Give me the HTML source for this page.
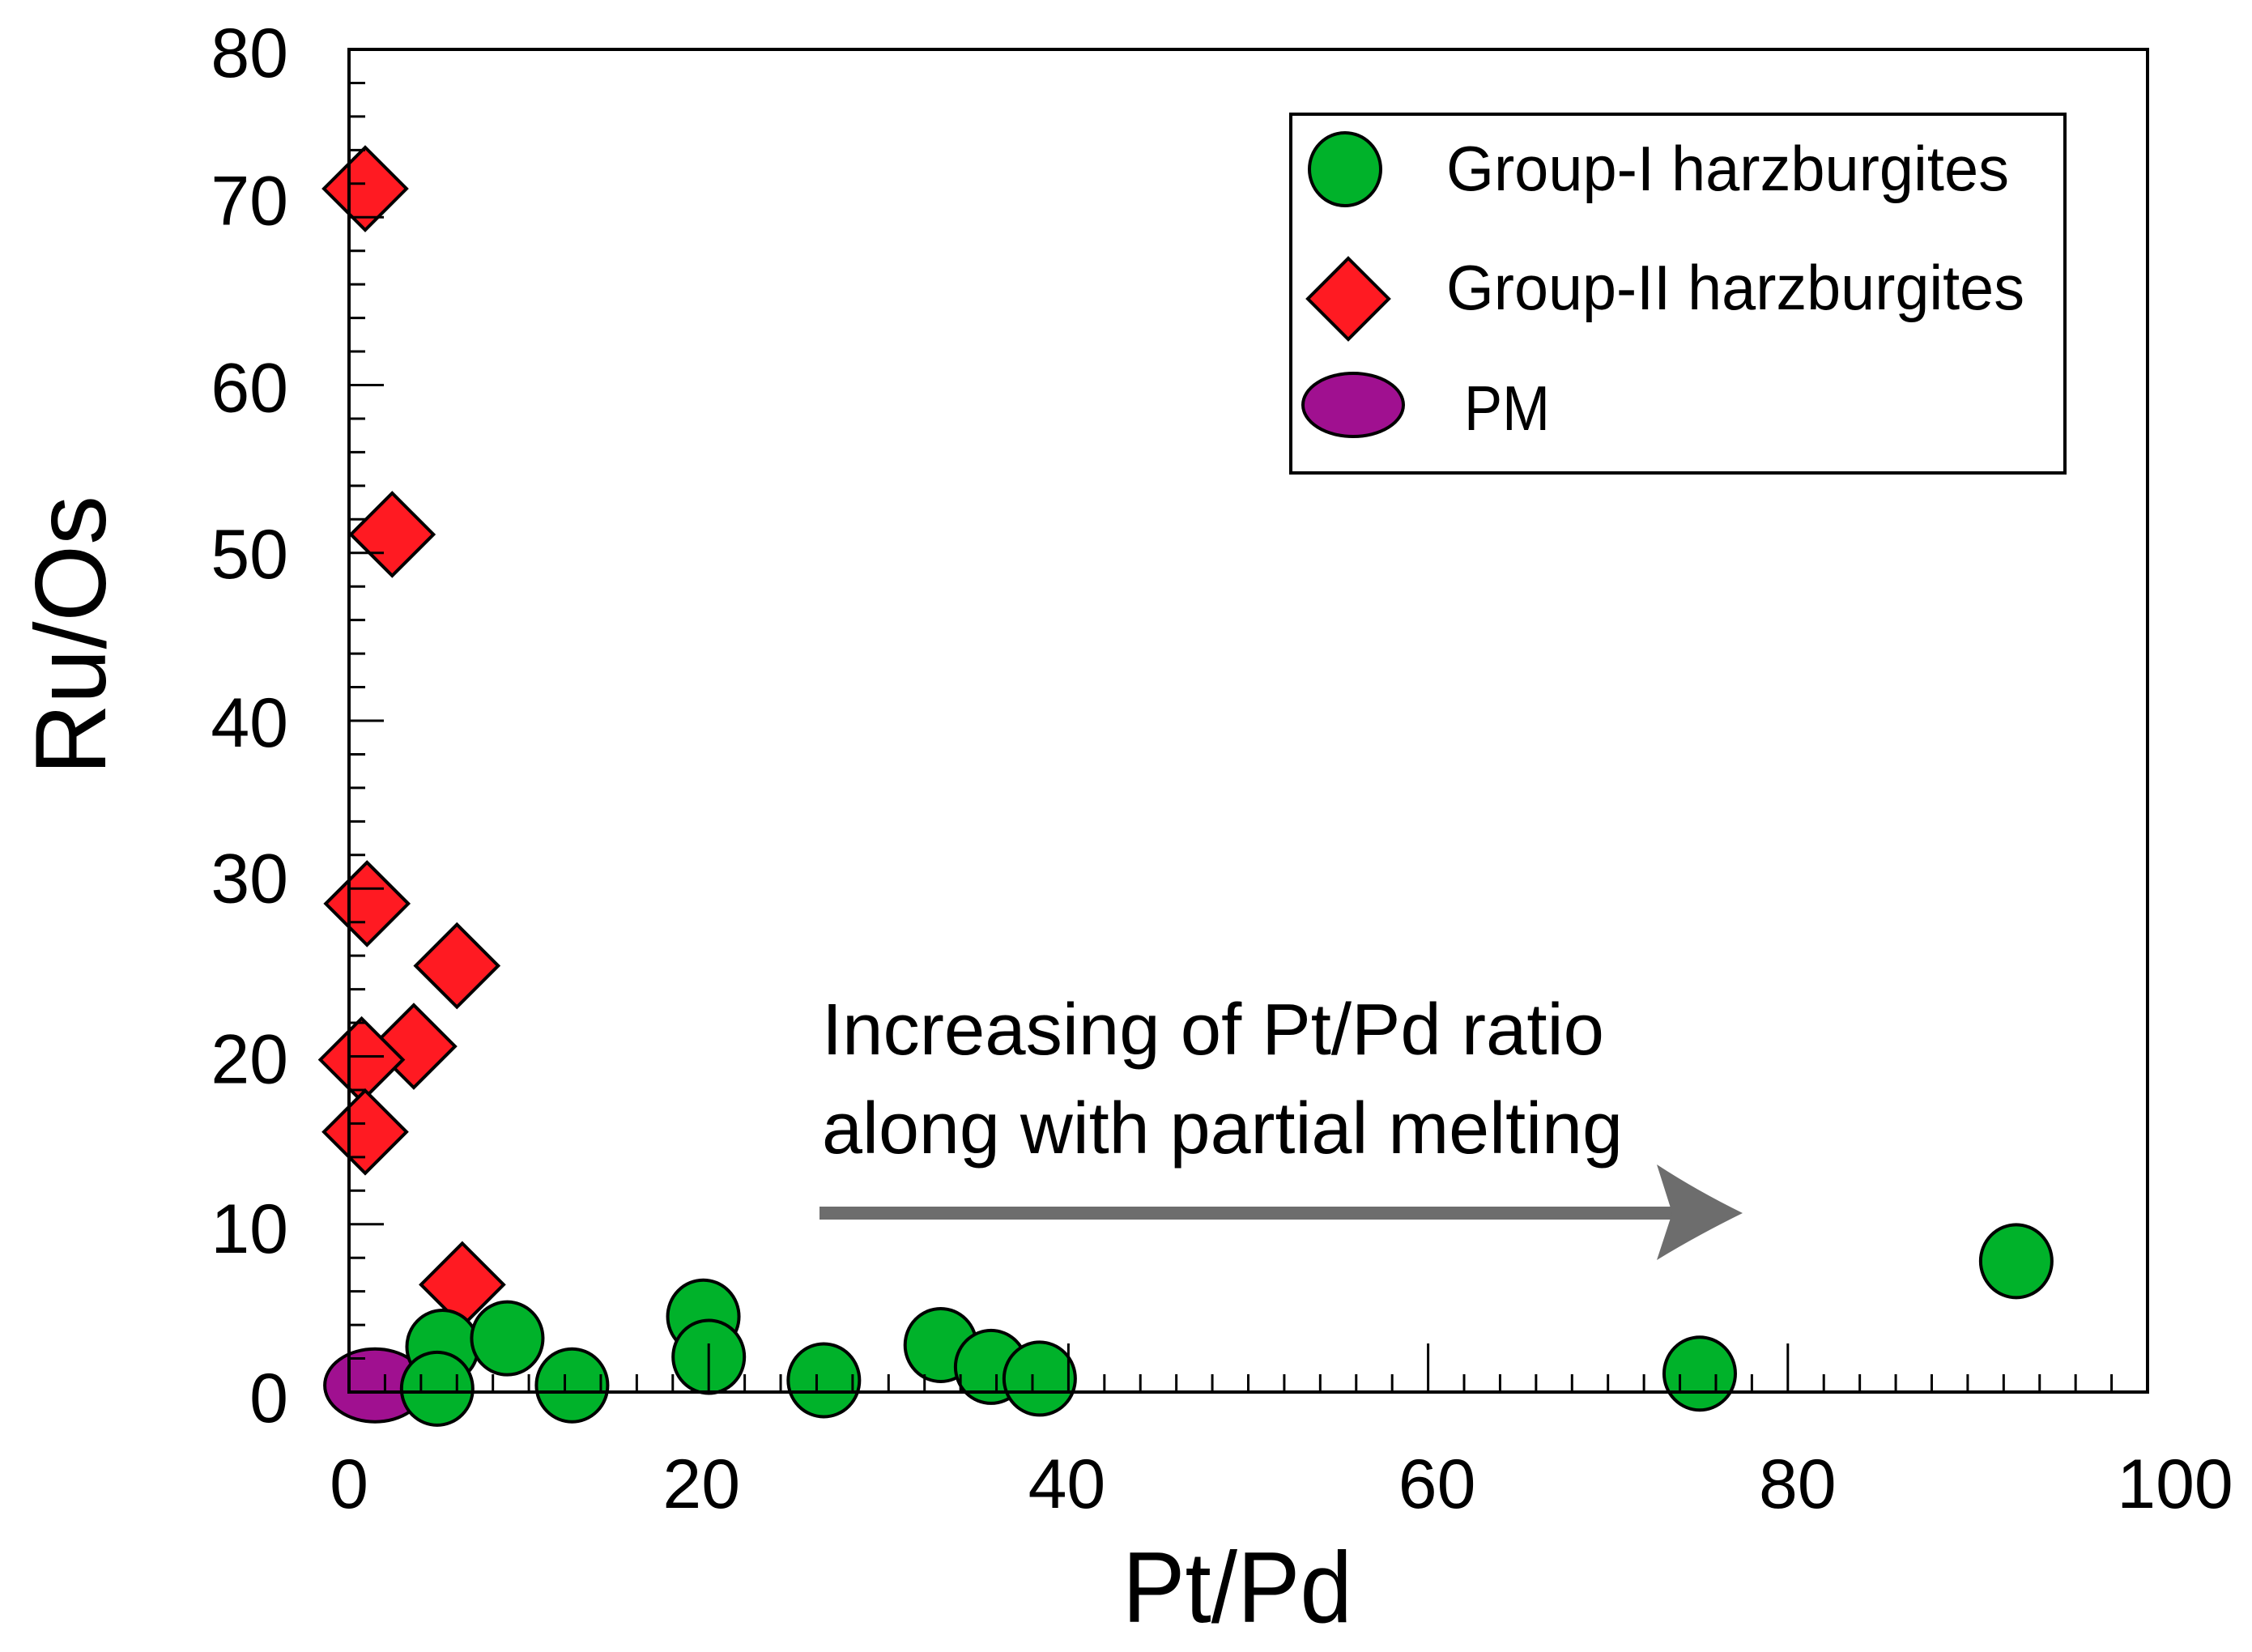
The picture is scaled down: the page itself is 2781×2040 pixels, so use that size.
<!DOCTYPE html>
<html><head><meta charset="utf-8"><style>
html,body{margin:0;padding:0;background:#fff;}
svg{display:block;font-family:"Liberation Sans",Arial,sans-serif;}
</style></head><body>
<svg id="chart" width="2781" height="2040" viewBox="0 0 2781 2040" xmlns="http://www.w3.org/2000/svg">
<rect width="2781" height="2040" fill="#fff"/>
<g id="marks"></g>
<rect x="431" y="61" width="2221" height="1658" fill="none" stroke="#000" stroke-width="4"/>
<g id="ticks"></g>
<g id="labels"></g>
<text transform="translate(130,957) rotate(-90)" font-size="124" textLength="345" lengthAdjust="spacingAndGlyphs">Ru/Os</text>
<text x="1386" y="2003" font-size="124" textLength="284" lengthAdjust="spacingAndGlyphs">Pt/Pd</text>
<g>
<text x="1015" y="1302" font-size="90" textLength="966" lengthAdjust="spacingAndGlyphs">Increasing of Pt/Pd ratio</text>
<text x="1015" y="1424" font-size="90" textLength="989" lengthAdjust="spacingAndGlyphs">along with partial melting</text>
<rect x="1012" y="1490" width="1055" height="16" fill="#6d6d6d"/>
<path d="M2046,1438 Q2095,1470 2152,1498 Q2095,1526 2046,1556 L2065,1498 Z" fill="#6d6d6d"/>
</g>
<g>
<rect x="1594" y="141" width="956" height="443" fill="#fff" stroke="#000" stroke-width="4"/>
<ellipse cx="1661" cy="209" rx="44" ry="45" fill="#00b22a" stroke="#000" stroke-width="4"/>
<text x="1786" y="235" font-size="78" textLength="695" lengthAdjust="spacingAndGlyphs">Group-I harzburgites</text>
<path d="M1665,319 L1715,369 L1665,419 L1615,369 Z" fill="#ff1a22" stroke="#000" stroke-width="4"/>
<text x="1786" y="382" font-size="78" textLength="714" lengthAdjust="spacingAndGlyphs">Group-II harzburgites</text>
<ellipse cx="1671" cy="500" rx="62" ry="39" fill="#a01090" stroke="#000" stroke-width="4"/>
<text x="1808" y="531" font-size="78" textLength="106" lengthAdjust="spacingAndGlyphs">PM</text>
</g>
</svg>
<script>
const xTickValues=[0,20,40,60,80,100];
const yTickValues=[0,10,20,30,40,50,60,70,80];
const groupIx=[5.2,4.9,8.8,12.4,19.7,20.0,26.4,32.9,35.7,38.4,75.1,92.7];
const groupIy=[2.7,0.2,3.2,0.4,4.5,2.1,0.7,2.8,1.5,0.8,1.1,7.8];
const groupIIx=[0.9,2.4,1.0,6.0,3.6,0.7,0.9,6.3];
const groupIIy=[71.7,51.1,29.1,25.4,20.6,19.8,15.5,6.4];
const pmX=[1.4];
const pmY=[0.4];
// label placement quirks in the reference (pixel nudges)
const xLabelOffsets=[0,-9,-2,11,12,34];
const yLabelOffsets=[6,4,2,-14,1,0,2,-22,3];

const NS='http://www.w3.org/2000/svg';
const X0=431,X1=2652,Y0=1719,Y1=61;
function sx(v){return X0+(v/100)*(X1-X0);}
function sy(v){return Y0-(v/80)*(Y0-Y1);}
function mk(tag,attrs,parent){const e=document.createElementNS(NS,tag);for(const k in attrs)e.setAttribute(k,attrs[k]);parent.appendChild(e);return e;}
const marks=document.getElementById('marks'),ticks=document.getElementById('ticks'),labels=document.getElementById('labels');

for(let v=0;v<=100;v+=2){
  const major=v%20===0;
  const t=mk('line',{x1:sx(v),x2:sx(v),y1:Y0,y2:Y0-(major?60:22),stroke:'#000','stroke-width':3},ticks);
  
  
}
for(let v=0;v<=80;v+=2){
  const major=v%10===0;
  const t=mk('line',{x1:X0,x2:X0+(major?43:20),y1:sy(v),y2:sy(v),stroke:'#000','stroke-width':3},ticks);
  
  
}
xTickValues.forEach((v,i)=>{
  const t=mk('text',{x:sx(v)+xLabelOffsets[i],y:1862,'font-size':86,'text-anchor':'middle'},labels);
  t.textContent=v;
  
  
});
yTickValues.forEach((v,i)=>{
  const t=mk('text',{x:356,y:sy(v)+31+yLabelOffsets[i],'font-size':86,'text-anchor':'end'},labels);
  t.textContent=v;
  
  
});
pmX.forEach((v,i)=>{
  const e=mk('ellipse',{cx:sx(v)+1,cy:sy(pmY[i]),rx:62,ry:45,fill:'#a01090',stroke:'#000','stroke-width':4},marks);
  
  
});
groupIIx.forEach((v,i)=>{
  const cx=sx(v),cy=sy(groupIIy[i]);
  const e=mk('path',{d:`M${cx},${cy-51} L${cx+51},${cy} L${cx},${cy+51} L${cx-51},${cy} Z`,fill:'#ff1a22',stroke:'#000','stroke-width':4},marks);
  
  
});
groupIx.forEach((v,i)=>{
  const e=mk('ellipse',{cx:sx(v),cy:sy(groupIy[i]),rx:44,ry:45,fill:'#00b22a',stroke:'#000','stroke-width':4},marks);
  
  
});
</script>
</body></html>
